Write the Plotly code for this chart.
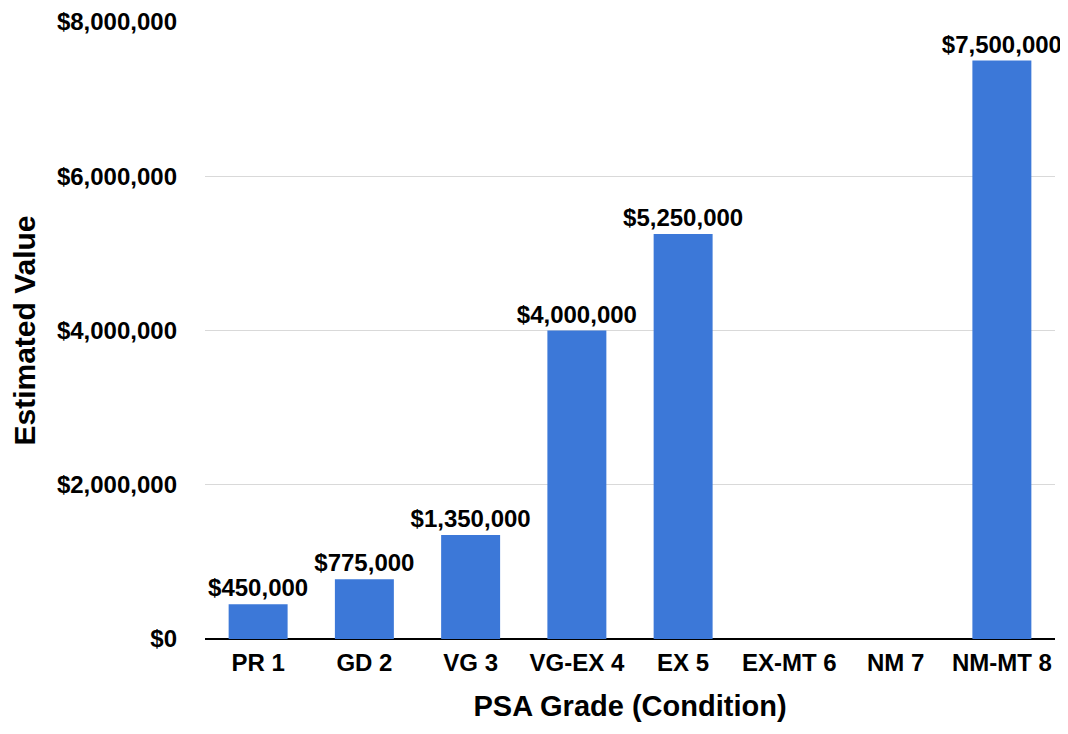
import plotly.graph_objects as go

categories = ["PR 1", "GD 2", "VG 3", "VG-EX 4", "EX 5", "EX-MT 6", "NM 7", "NM-MT 8"]
values = [450000, 775000, 1350000, 4000000, 5250000, None, None, 7500000]
tick_vals = [0, 2000000, 4000000, 6000000, 8000000]
tick_text = ["$0", "$2,000,000", "$4,000,000", "$6,000,000", "$8,000,000"]

labels = ["" if v is None else "<b>${:,.0f}</b>".format(v) for v in values]

font_family = "Liberation Sans, Arial, sans-serif"

fig = go.Figure(go.Bar(
    x=categories, y=values, text=labels, textposition="outside",
    constraintext="none",
    marker=dict(color="#3C78D8", line=dict(width=0)),
    textfont=dict(family=font_family, size=24, color="#000000"),
    cliponaxis=False,
))

# page body has an 8px margin, so the figure is sized to fit inside the window
fig.update_layout(
    width=1060, height=726,
    margin=dict(l=197, r=13, t=14, b=95),
    paper_bgcolor="white", plot_bgcolor="white",
    bargap=0.445,
    font=dict(family=font_family, color="#000000"),
    showlegend=False,
)
fig.update_xaxes(
    automargin=False,
    title=dict(text="<b>PSA Grade (Condition)</b>", font=dict(size=29, family=font_family), standoff=20),
    tickfont=dict(size=24, family=font_family),
    ticktext=["<b>%s</b>" % c for c in categories], tickvals=categories,
    showline=False, ticks="", ticklabelstandoff=7,
)
fig.update_yaxes(
    automargin=False,
    range=[0, 8000000],
    tickvals=tick_vals, ticktext=["<b>%s</b>" % t for t in tick_text],
    tickfont=dict(size=24, family=font_family),
    title=dict(text="<b>Estimated Value</b>", font=dict(size=30, family=font_family), standoff=17),
    showgrid=True, gridcolor="#D9D9D9", gridwidth=1,
    zeroline=True, zerolinecolor="#000000", zerolinewidth=2,
    ticks="", ticklabelstandoff=27,
)

fig.write_html("out.html")
